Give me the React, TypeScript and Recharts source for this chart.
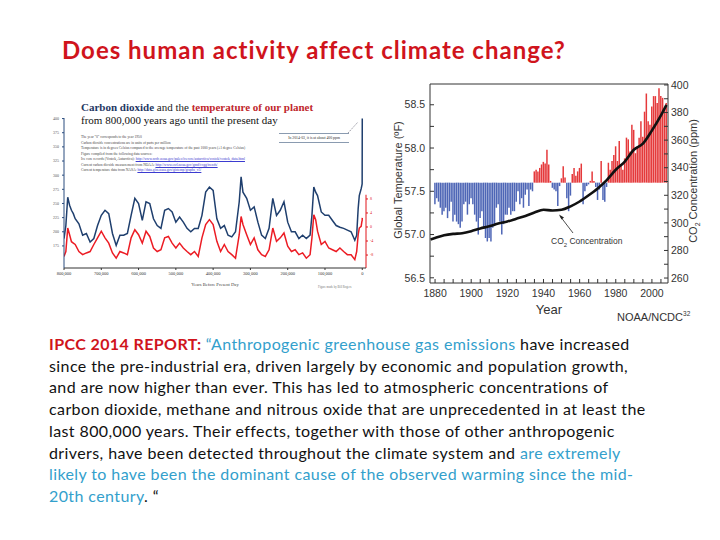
import React from 'react';
import {
  LineChart,
  Line,
  ComposedChart,
  Bar,
  Cell,
  XAxis,
  YAxis,
  ReferenceLine,
  Label
} from 'recharts';

// ---- left panel: ice core record (thousands of years before present)
const iceAgeKyr = [
  800, 795, 790, 785, 780, 775, 770, 760, 750, 740,
  730, 720, 710, 700, 690, 680, 670, 660, 650, 640,
  630, 620, 610, 600, 590, 580, 570, 560, 550, 540,
  530, 520, 510, 500, 490, 480, 470, 460, 450, 440,
  430, 420, 410, 400, 390, 380, 370, 360, 350, 340,
  330, 325, 320, 310, 300, 290, 280, 270, 260, 250,
  240, 230, 220, 210, 200, 190, 180, 170, 160, 150,
  140, 135, 130, 125, 120, 110, 100, 90, 80, 70,
  60, 50, 40, 30, 20, 15, 11, 8, 3, 1,
  0.3, 0
];
const iceCo2 = [
  188, 211, 261, 247, 238, 232, 223, 214, 194, 197,
  182, 188, 211, 229, 238, 232, 197, 176, 194, 194,
  197, 229, 259, 250, 220, 253, 250, 223, 211, 206,
  238, 241, 235, 217, 226, 217, 206, 200, 206, 206,
  229, 270, 279, 273, 223, 206, 211, 194, 191, 200,
  253, 297, 270, 259, 238, 244, 217, 194, 188, 206,
  259, 229, 238, 253, 217, 200, 200, 188, 194, 188,
  194, 229, 279, 270, 264, 235, 229, 229, 220, 211,
  208, 206, 203, 200, 185, 194, 241, 264, 276, 282,
  285, 400
];
const iceTemp = [
  -8.4, -7, -0.3, -2.2, -4.2, -4.6, -5, -7, -7.9, -7.4,
  -7, -5, -3.1, -1.2, -3.1, -4.6, -7.4, -8.9, -7, -7.4,
  -7.9, -3.1, -0.8, -2.2, -4.6, -1.2, -2.7, -6, -7, -6.5,
  -3.1, -2.7, -4.6, -6, -4.6, -6, -7, -7.9, -7, -8.4,
  -3.1, 0.7, 2.1, 0.7, -4.1, -7, -5, -7, -7.9, -8.9,
  -2.2, 3, 0.7, -2.2, -5, -3.1, -6.5, -7.9, -8.4, -6.5,
  -0.3, -4.1, -3.1, -1.7, -5.5, -7, -6.5, -7.9, -7.4, -8.9,
  -7.9, -3.1, 3.5, 2.1, -1.2, -5, -4.1, -6, -6.5, -7,
  -6, -7, -7.9, -7.9, -9.3, -7, -2.2, -0.3, 0.2, 1.6,
  1.8, 2.6
];
const iceAgeTicks = [800, 700, 600, 500, 400, 300, 200, 100, 0];
const iceCo2Ticks = [175, 200, 225, 250, 275, 300, 325, 350, 375, 400];
const iceTempTicks = [-8, -4, 0, 4, 8];

// ---- right panel: NOAA annual global temperature (F), 1880-2008
const firstYear = 1880;
const annualTempF = [
  57.35, 57.42, 57.38, 57.31, 57.23, 57.27, 57.31, 57.19, 57.27, 57.38,
  57.15, 57.23, 57.15, 57.12, 57.08, 57.15, 57.35, 57.38, 57.23, 57.35,
  57.42, 57.35, 57.23, 57.15, 57.0, 57.19, 57.27, 57.08, 56.96, 56.92,
  56.96, 56.92, 57.08, 57.12, 57.31, 57.35, 57.15, 57.0, 57.12, 57.23,
  57.23, 57.31, 57.23, 57.27, 57.27, 57.38, 57.5, 57.35, 57.42, 57.31,
  57.46, 57.52, 57.33, 57.52, 57.5, 57.73, 57.75, 57.73, 57.77, 57.81,
  57.84, 57.82, 57.98, 57.81, 57.62, 57.54, 57.52, 57.5, 57.33, 57.56,
  57.65, 57.79, 57.66, 57.42, 57.27, 57.45, 57.7, 57.77, 57.68, 57.73,
  57.77, 57.82, 57.35, 57.5, 57.56, 57.58, 57.62, 57.73, 57.62, 57.55,
  57.4, 57.52, 57.85, 57.4, 57.38, 57.55, 57.83, 57.75, 57.85, 57.92,
  58.02, 57.85, 58.08, 57.81, 57.75, 57.88, 58.12, 58.1, 57.96, 58.27,
  58.21, 57.94, 58.02, 58.12, 58.31, 58.13, 58.42, 58.63, 58.31, 58.27,
  58.48, 58.6, 58.6, 58.52, 58.69, 58.6, 58.58, 58.45, 58.52
];
const baseTempF = 57.6;
const co2Years = [
  1877.5, 1880, 1885, 1890, 1895, 1900, 1905, 1910, 1915, 1920,
  1925, 1930, 1935, 1940, 1945, 1950, 1955, 1960, 1965, 1970,
  1975, 1980, 1985, 1990, 1995, 2000, 2005, 2008
];
const co2Ppm = [
  288, 289, 291, 292, 292.5, 294, 296, 297.5, 299.5, 301,
  303, 305, 307.5, 309.5, 309, 309.5, 312, 315.5, 320, 325,
  331, 338.5, 344.5, 353, 357.5, 367, 378, 385.5
];
const yearTicks = [
  1880, 1885, 1890, 1895, 1900, 1905, 1910, 1915, 1920, 1925, 1930, 1935,
  1940, 1945, 1950, 1955, 1960, 1965, 1970, 1975, 1980, 1985, 1990, 1995,
  2000, 2005
];
const tempTicks = [56.5, 56.75, 57, 57.25, 57.5, 57.75, 58, 58.25, 58.5];
const ppmTicks = [260, 270, 280, 290, 300, 310, 320, 330, 340, 350, 360, 370, 380, 390, 400];

const iceRows = iceAgeKyr.map((age, i) => ({ age, co2: iceCo2[i], temp: iceTemp[i] }));
const tempRows = annualTempF.map((t, i) => ({ year: firstYear + i, temp: t }));
const co2Rows = co2Years.map((year, i) => ({ year, ppm: co2Ppm[i] }));

const RED = '#d0141c';
const BLUE_TXT = '#33a0cc';
const AX = '#333';
const sans = '"Liberation Sans", Arial, sans-serif';
const serif = '"Liberation Serif", serif';

const noteStyle: React.CSSProperties = {
  position: 'absolute', left: 81, fontSize: 3.6, lineHeight: '4px', color: '#444',
  fontFamily: serif, whiteSpace: 'nowrap'
};
const link: React.CSSProperties = { color: '#3b3bd0', textDecoration: 'underline' };

const IceCoreChart = () => (
  <div style={{ position: 'absolute', left: 45, top: 95 }}>
    <LineChart width={335} height={200} data={iceRows} margin={{ top: 23, right: 0, bottom: 0, left: 0 }}>
      <XAxis
        dataKey="age"
        type="number"
        domain={[-10, 800]}
        reversed
        allowDataOverflow
        ticks={iceAgeTicks}
        interval={0}
        tickFormatter={(v: number) => (v * 1000).toLocaleString('en-US')}
        height={27}
        stroke="#333"
        tickSize={2}
        tickMargin={2}
        tick={{ fontSize: 4.5, fill: '#333', fontFamily: serif }}
      >
        <Label value="Years Before Present Day" position="insideBottom" offset={9} fontSize={4.6} fill="#444" fontFamily={serif} />
      </XAxis>
      <YAxis
        yAxisId="c"
        width={19}
        domain={[136, 401]}
        allowDataOverflow
        ticks={iceCo2Ticks}
        interval={0}
        stroke="#2b4c7e"
        tickSize={2}
        tickMargin={3}
        tick={{ fontSize: 4, fill: '#555', fontFamily: serif }}
      />
      <YAxis
        yAxisId="t"
        orientation="right"
        width={14}
        domain={[-11.7, 31.1]}
        allowDataOverflow
        ticks={iceTempTicks}
        interval={0}
        axisLine={false}
        tickLine={{ stroke: '#e0141b' }}
        tickSize={2}
        tickMargin={2}
        tick={{ fontSize: 4, fill: '#e0141b', fontFamily: serif }}
      />
      <ReferenceLine
        yAxisId="t"
        segment={[{ x: -10, y: -11.7 }, { x: -10, y: 9.2 }]}
        stroke="#e0141b"
        strokeWidth={1}
      />
      <Line yAxisId="t" dataKey="temp" type="linear" stroke="#ec1c24" strokeWidth={1.5} dot={false} isAnimationActive={false} />
      <Line yAxisId="c" dataKey="co2" type="linear" stroke="#1f3f6e" strokeWidth={1.5} dot={false} isAnimationActive={false} />
    </LineChart>
  </div>
);

const InstrumentalChart = () => (
  <div style={{ position: 'absolute', left: 385, top: 75 }}>
    <ComposedChart width={330} height={250} data={tempRows} margin={{ top: 0, right: 0, bottom: 0, left: 0 }}>
      <XAxis
        dataKey="year"
        type="number"
        domain={[1877.2, 2008.9]}
        allowDataOverflow
        ticks={yearTicks}
        interval={0}
        tickFormatter={(v: number) => (v % 20 === 0 ? String(v) : '')}
        height={42}
        stroke={AX}
        tickSize={-4}
        tickMargin={11}
        tick={{ fontSize: 10.5, fill: AX, fontFamily: sans }}
      >
        <Label value="Year" position="insideBottom" offset={11} fontSize={13} fill={AX} fontFamily={sans} />
      </XAxis>
      <XAxis
        xAxisId="top"
        orientation="top"
        type="number"
        dataKey="year"
        domain={[1877.2, 2008.9]}
        allowDataOverflow
        ticks={yearTicks}
        interval={0}
        height={9}
        stroke={AX}
        tickSize={-4}
        tick={false}
      />
      <YAxis
        yAxisId="temp"
        width={45}
        domain={[56.44, 58.74]}
        allowDataOverflow
        ticks={tempTicks}
        interval={0}
        tickFormatter={(v: number) => (Math.round(v * 100) % 50 === 0 ? v.toFixed(1) : '')}
        stroke={AX}
        tickSize={-4}
        tickMargin={9}
        tick={{ fontSize: 10.5, fill: AX, fontFamily: sans }}
      />
      <YAxis
        yAxisId="co2"
        orientation="right"
        width={47}
        domain={[256.4, 400.7]}
        allowDataOverflow
        ticks={ppmTicks}
        interval={0}
        tickFormatter={(v: number) => (v % 20 === 0 ? String(v) : '')}
        stroke={AX}
        tickSize={-4}
        tickMargin={7}
        tick={{ fontSize: 10.5, fill: AX, fontFamily: sans }}
      />
      <Bar
        yAxisId="temp"
        dataKey={(d: { temp: number }) => (d.temp >= baseTempF ? [baseTempF, d.temp] : [d.temp, baseTempF])}
        barSize={1.5}
        isAnimationActive={false}
      >
        {tempRows.map((r, i) => (
          <Cell key={`b-${i}`} fill={r.temp >= baseTempF ? '#e5393b' : '#4e66b6'} />
        ))}
      </Bar>
      <Line
        yAxisId="co2"
        data={co2Rows}
        dataKey="ppm"
        type="monotone"
        stroke="#111"
        strokeWidth={2.6}
        dot={false}
        isAnimationActive={false}
      />
    </ComposedChart>
  </div>
);

export default function App() {
  return (
    <div style={{ position: 'absolute', left: 0, top: 0, width: 720, height: 540, background: '#fff', overflow: 'hidden' }}>
      <div style={{ position: 'absolute', left: 62, top: 35, fontFamily: 'Lato, sans-serif', fontWeight: 700, fontSize: 24, letterSpacing: 1, color: RED, whiteSpace: 'nowrap', lineHeight: '30px' }}>
        Does human activity affect climate change?
      </div>

      {/* left panel: ice core image */}
      <div style={{ position: 'absolute', left: 81, top: 101, fontFamily: serif, fontSize: 11, lineHeight: '12.5px', whiteSpace: 'nowrap' }}>
        <div style={{ fontWeight: 700 }}>
          <span style={{ color: '#1f3864' }}>Carbon dioxide</span>
          <span style={{ color: '#222', fontWeight: 400 }}> and the </span>
          <span style={{ color: '#c0272d' }}>temperature of our planet</span>
        </div>
        <div style={{ color: '#111' }}>from 800,000 years ago until the present day</div>
      </div>
      <div style={{ ...noteStyle, top: 135 }}>The year "0" corresponds to the year 1950</div>
      <div style={{ ...noteStyle, top: 140.5 }}>Carbon dioxide concentrations are in units of parts per million</div>
      <div style={{ ...noteStyle, top: 146 }}>Temperature is in degrees Celsius compared to the average temperature of the past 1000 years (±1 degree Celsius)</div>
      <div style={{ ...noteStyle, top: 151.5 }}>Figure compiled from the following data sources:</div>
      <div style={{ ...noteStyle, top: 157 }}>Ice core records (Vostok, Antarctica): <span style={link}>http://www.ncdc.noaa.gov/paleo/icecore/antarctica/vostok/vostok_data.html</span></div>
      <div style={{ ...noteStyle, top: 162.5 }}>Current carbon dioxide measurement from NOAA: <span style={link}>http://www.esrl.noaa.gov/gmd/ccgg/trends/</span></div>
      <div style={{ ...noteStyle, top: 168 }}>Current temperature data from NASA: <span style={link}>http://data.giss.nasa.gov/gistemp/graphs_v3/</span></div>
      <div style={{ position: 'absolute', left: 279, top: 133, width: 70, height: 8, borderTop: '1px solid #8a9bb0', borderBottom: '1px solid #8a9bb0', fontSize: 3.8, lineHeight: '8px', textAlign: 'center', color: '#333', fontFamily: serif, whiteSpace: 'nowrap' }}>
        In 2014-03, it is at about 400 ppm
      </div>
      <svg style={{ position: 'absolute', left: 0, top: 0 }} width={720} height={540}>
        <line x1={348} y1={133} x2={358} y2={122} stroke="#556" strokeWidth={0.6} strokeDasharray="1.5 1" />
        <line x1={573} y1={233} x2={560} y2={216} stroke="#222" strokeWidth={0.8} />
        <path d="M559 214.5 L564 217.5 L561.5 219.5 Z" fill="#222" />
      </svg>
      <IceCoreChart />
      <div style={{ position: 'absolute', left: 318, top: 285, fontSize: 3, color: '#777', fontFamily: serif, whiteSpace: 'nowrap' }}>
        Figure made by Bill Rogers
      </div>

      {/* right panel */}
      <InstrumentalChart />
      <div style={{ position: 'absolute', left: 398, top: 180, transform: 'translate(-50%, -50%) rotate(-90deg)', fontFamily: sans, fontSize: 11, color: AX, whiteSpace: 'nowrap' }}>
        Global Temperature (ºF)
      </div>
      <div style={{ position: 'absolute', left: 694, top: 181, transform: 'translate(-50%, -50%) rotate(-90deg)', fontFamily: sans, fontSize: 11, color: AX, whiteSpace: 'nowrap' }}>
        CO<sub style={{ fontSize: 7 }}>2</sub> Concentration (ppm)
      </div>
      <div style={{ position: 'absolute', left: 551, top: 236, fontFamily: sans, fontSize: 8.5, color: AX, whiteSpace: 'nowrap' }}>
        CO<sub style={{ fontSize: 6 }}>2</sub> Concentration
      </div>
      <div style={{ position: 'absolute', left: 617, top: 310, fontFamily: sans, fontSize: 11, color: AX, whiteSpace: 'nowrap' }}>
        NOAA/NCDC<sup style={{ fontSize: 6.5 }}>32</sup>
      </div>

      {/* quote */}
      <div style={{ position: 'absolute', left: 49, top: 333, fontFamily: 'Lato, sans-serif', fontSize: 16, letterSpacing: 0.4, lineHeight: '21.7px', color: '#111', whiteSpace: 'nowrap' }}>
        <div>
          <span style={{ color: RED, fontWeight: 700 }}>IPCC 2014 REPORT: </span>
          <span style={{ color: BLUE_TXT }}>“Anthropogenic greenhouse gas emissions</span> have increased
        </div>
        <div>since the pre-industrial era, driven largely by economic and population growth,</div>
        <div>and are now higher than ever. This has led to atmospheric concentrations of</div>
        <div>carbon dioxide, methane and nitrous oxide that are unprecedented in at least the</div>
        <div>last 800,000 years. Their effects, together with those of other anthropogenic</div>
        <div>drivers, have been detected throughout the climate system and <span style={{ color: BLUE_TXT }}>are extremely</span></div>
        <div style={{ color: BLUE_TXT }}>likely to have been the dominant cause of the observed warming since the mid-</div>
        <div><span style={{ color: BLUE_TXT }}>20th century</span>. “</div>
      </div>
    </div>
  );
}
